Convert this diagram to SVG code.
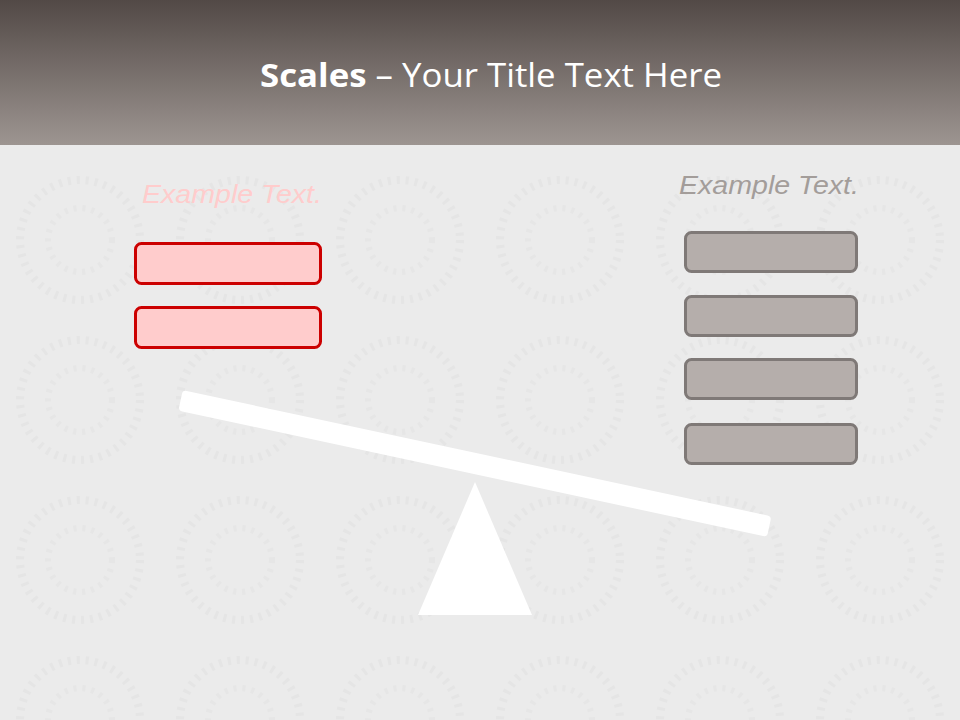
<svg xmlns="http://www.w3.org/2000/svg" width="960" height="720" viewBox="0 0 960 720">
<defs>
<linearGradient id="hdr" x1="0" y1="0" x2="0" y2="1">
<stop offset="0" stop-color="#524946"/>
<stop offset="1" stop-color="#9d9591"/>
</linearGradient>
<pattern id="tex" width="160" height="160" patternUnits="userSpaceOnUse">
<rect width="160" height="160" fill="#ebebeb"/>
<circle cx="80" cy="80" r="60" fill="none" stroke="#e5e5e5" stroke-width="8" stroke-dasharray="3 6"/>
<circle cx="80" cy="80" r="32" fill="none" stroke="#e6e6e6" stroke-width="6" stroke-dasharray="3 6"/>
</pattern>
</defs>
<style>
.lbox{fill:#ffcccc;stroke:#cc0000;stroke-width:3}
.rbox{fill:#b5aeab;stroke:#7f7977;stroke-width:3}
.lbl{font-family:"Liberation Sans",sans-serif;font-style:italic;font-size:25px;text-anchor:middle}
</style>
<rect width="960" height="720" fill="url(#tex)"/>
<rect width="960" height="145" fill="url(#hdr)"/>
<text x="491" y="87" font-family="'Open Sans','Liberation Sans',sans-serif" font-size="32" fill="#ffffff" text-anchor="middle" textLength="462" lengthAdjust="spacingAndGlyphs"><tspan font-weight="bold">Scales</tspan> – Your Title Text Here</text>
<g id="scale">
<rect x="-301" y="-10" width="602" height="21" rx="4" fill="#ffffff" transform="translate(475,463) rotate(12.1)"/>
<polygon points="475,482 532,615 418,615" fill="#ffffff"/>
</g>
<g id="left">
<text class="lbl" x="232" y="203" fill="#ffcccc" textLength="180" lengthAdjust="spacingAndGlyphs">Example Text.</text>
<rect class="lbox" x="135.5" y="243.5" width="185" height="40" rx="6"/>
<rect class="lbox" x="135.5" y="307.5" width="185" height="40" rx="6"/>
</g>
<g id="right">
<text class="lbl" x="769" y="194" fill="#a39d9a" textLength="180" lengthAdjust="spacingAndGlyphs">Example Text.</text>
<rect class="rbox" x="685.5" y="232.5" width="171" height="39" rx="6"/>
<rect class="rbox" x="685.5" y="296.5" width="171" height="39" rx="6"/>
<rect class="rbox" x="685.5" y="359.5" width="171" height="39" rx="6"/>
<rect class="rbox" x="685.5" y="424.5" width="171" height="39" rx="6"/>
</g>
</svg>
